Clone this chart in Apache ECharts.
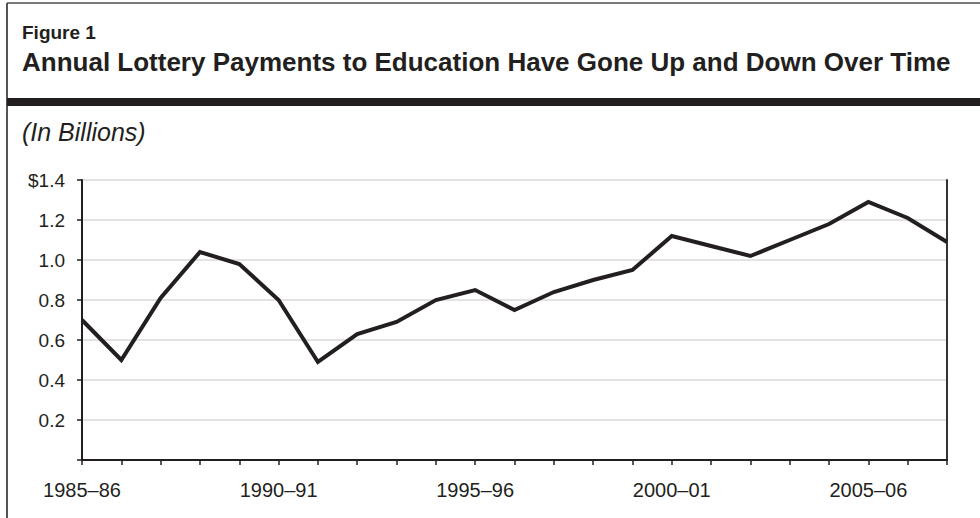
<!DOCTYPE html>
<html>
<head>
<meta charset="utf-8">
<script src="https://cdn.jsdelivr.net/npm/echarts@6/dist/echarts.min.js"></script>
<style>
html,body{margin:0;padding:0;background:#fff;}
#chart{width:980px;height:518px;}
</style>
</head>
<body>
<div id="chart"></div>
<script>
// ---- data ----
const categories = ['1985–86','1986–87','1987–88','1988–89','1989–90','1990–91','1991–92','1992–93',
  '1993–94','1994–95','1995–96','1996–97','1997–98','1998–99','1999–00','2000–01','2001–02',
  '2002–03','2003–04','2004–05','2005–06','2006–07','2007–08'];
const payments = [0.70,0.50,0.81,1.04,0.98,0.80,0.49,0.63,0.69,0.80,0.85,0.75,0.84,0.90,0.95,
  1.12,1.07,1.02,1.10,1.18,1.29,1.21,1.09];
const yTickLabels = ['', '0.2', '0.4', '0.6', '0.8', '1.0', '1.2', '$1.4'];
const figureLabel = 'Figure 1';
const titleText = 'Annual Lottery Payments to Education Have Gone Up and Down Over Time';
const unitText = '(In Billions)';

const INK = '#231f20';
const FONT = '"Liberation Sans", Arial, Helvetica, sans-serif';

const chart = echarts.init(document.getElementById('chart'), null, {renderer: 'svg'});
chart.setOption({
  animation: false,
  backgroundColor: '#fff',
  textStyle: {fontFamily: FONT, color: INK},
  grid: {left: 82, top: 180, right: 33, bottom: 58, containLabel: false, outerBoundsMode: 'none'},
  graphic: [
    {type: 'line', shape: {x1: 7, y1: 3, x2: 980, y2: 3}, style: {stroke: '#7a7a7a', lineWidth: 2}},
    {type: 'line', shape: {x1: 7, y1: 3, x2: 7, y2: 518}, style: {stroke: '#555', lineWidth: 2}},
    {type: 'rect', shape: {x: 7, y: 98, width: 973, height: 8}, style: {fill: INK}},
    {type: 'text', x: 22, y: 32, style: {text: figureLabel, font: 'bold 19px ' + FONT, fill: INK, verticalAlign: 'middle'}},
    {type: 'text', x: 22, y: 62, style: {text: titleText, font: 'bold 26px ' + FONT, fill: INK, verticalAlign: 'middle'}},
    {type: 'text', x: 22, y: 132, style: {text: unitText, font: 'italic 25px ' + FONT, fill: INK, verticalAlign: 'middle'}}
  ],
  xAxis: [{
    type: 'category',
    data: categories,
    boundaryGap: false,
    axisLine: {lineStyle: {color: INK, width: 2}},
    axisTick: {show: true, interval: 0, length: 5, lineStyle: {color: INK, width: 1.5}},
    axisLabel: {
      interval: function (i) { return i % 5 === 0; },
      color: INK, fontSize: 20, fontFamily: FONT, margin: 20
    },
    splitLine: {show: false}
  }, {
    type: 'category',
    data: categories,
    position: 'top',
    boundaryGap: false,
    z: 5,
    axisLine: {lineStyle: {color: INK, width: 2}},
    axisTick: {show: false},
    axisLabel: {show: false},
    splitLine: {show: false}
  }],
  yAxis: [{
    type: 'value',
    min: 0, max: 1.4, interval: 0.2,
    axisLine: {show: true, lineStyle: {color: INK, width: 2}},
    axisTick: {show: true, length: 5, lineStyle: {color: INK, width: 1.5}},
    axisLabel: {
      color: INK, fontSize: 19, fontFamily: FONT, margin: 17,
      formatter: function (v) { return yTickLabels[Math.round(v / 0.2)]; }
    },
    splitLine: {show: true, lineStyle: {color: '#d9d9d9', width: 1.5}}
  }, {
    type: 'value',
    min: 0, max: 1.4, interval: 0.2,
    position: 'right',
    z: 5,
    axisLine: {show: true, lineStyle: {color: '#333', width: 2}},
    axisTick: {show: false},
    axisLabel: {show: false},
    splitLine: {show: false}
  }],
  series: [{
    type: 'line',
    data: payments,
    xAxisIndex: 0, yAxisIndex: 0,
    symbol: 'none',
    z: 10,
    lineStyle: {color: INK, width: 4, join: 'miter'}
  }]
});
</script>
</body>
</html>
